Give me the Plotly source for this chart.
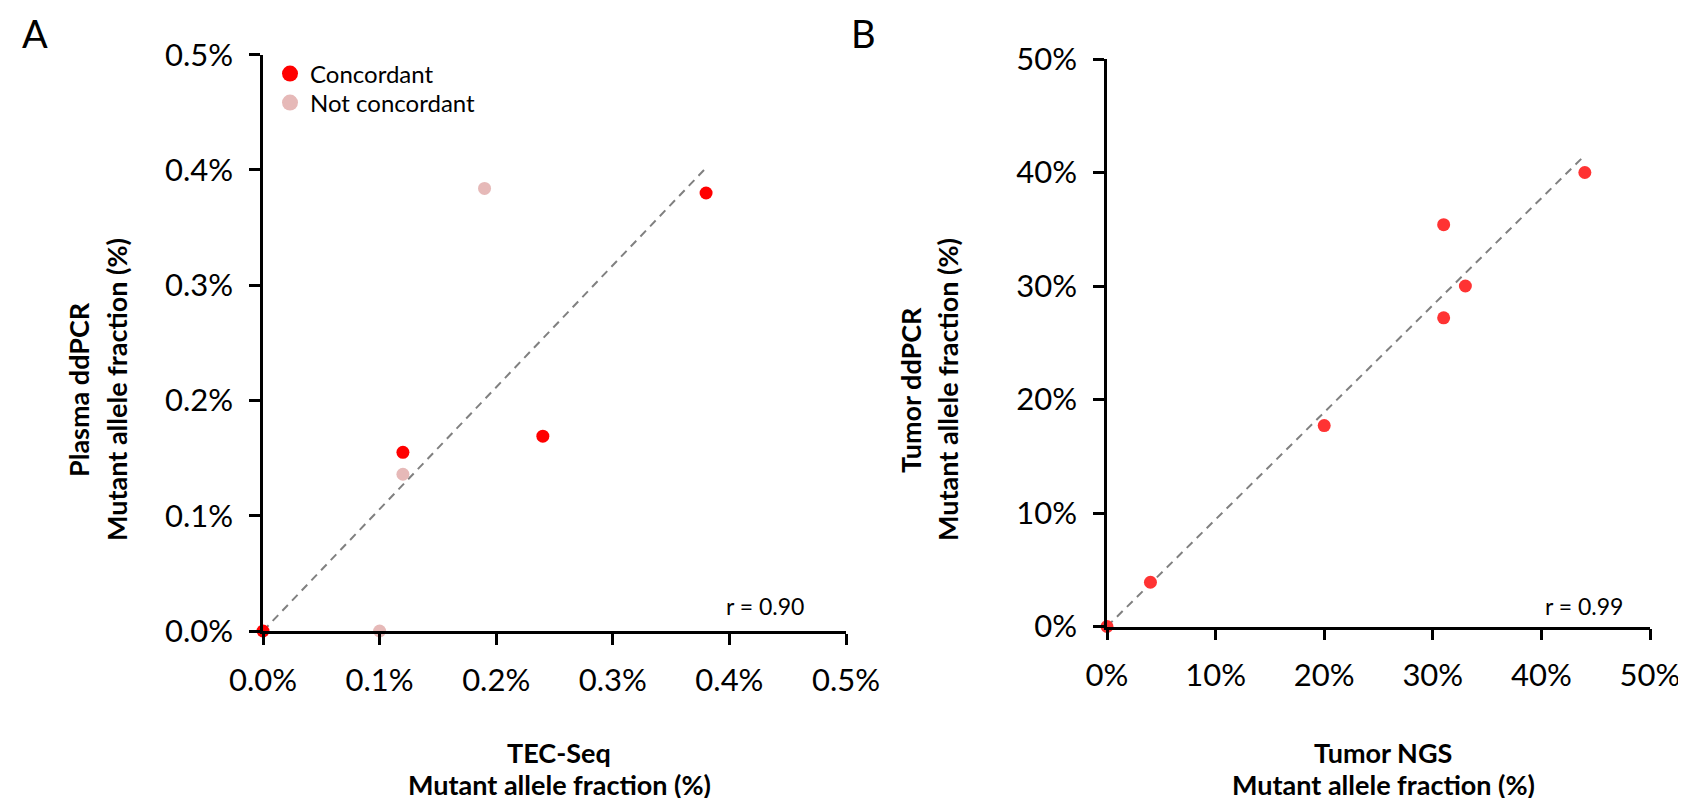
import numpy as np
import plotly.graph_objects as go

# ---------------- data ----------------
# Panel A: TEC-Seq vs plasma ddPCR (mutant allele fraction, %)
a_conc_x = [0.0, 0.12, 0.24, 0.38]
a_conc_y = [0.0, 0.155, 0.169, 0.380]
a_notc_x = [0.10, 0.12, 0.19]
a_notc_y = [0.0, 0.136, 0.384]
a_ticks = [0.0, 0.1, 0.2, 0.3, 0.4, 0.5]
a_tick_labels = ["0.0%", "0.1%", "0.2%", "0.3%", "0.4%", "0.5%"]
a_r_text = "r = 0.90"

# Panel B: tumor NGS vs tumor ddPCR (mutant allele fraction, %)
b_x = [0, 4, 20, 31, 31, 33, 44]
b_y = [0, 3.9, 17.7, 35.4, 27.2, 30.0, 40.0]
b_ticks = [0, 10, 20, 30, 40, 50]
b_tick_labels = ["0%", "10%", "20%", "30%", "40%", "50%"]
b_r_text = "r = 0.99"

W, H = 1686, 798
FONT = "Lato"
RED = "#FF0000"
PINK = "#E6B9B8"


def px(x):
    return x / W


def py(y):
    return 1 - y / H


def origin_fit(xs, ys):
    xs = np.asarray(xs, float)
    ys = np.asarray(ys, float)
    k = (xs * ys).sum() / (xs * xs).sum()
    xe = xs.max()
    return [0, xe], [0, k * xe]


fig = go.Figure()

# ---- Panel A ----
ax_all = a_conc_x + a_notc_x
ay_all = a_conc_y + a_notc_y
lx, ly = origin_fit(ax_all, ay_all)
fig.add_trace(go.Scatter(x=lx, y=ly, mode="lines", xaxis="x", yaxis="y",
                         line=dict(color="#808080", width=2, dash="8px,6px"),
                         showlegend=False, hoverinfo="skip"))
fig.add_trace(go.Scatter(x=a_notc_x, y=a_notc_y, mode="markers", xaxis="x", yaxis="y",
                         name="Not concordant", cliponaxis=False,
                         marker=dict(color=PINK, size=13), showlegend=False))
fig.add_trace(go.Scatter(x=a_conc_x, y=a_conc_y, mode="markers", xaxis="x", yaxis="y",
                         name="Concordant", cliponaxis=False,
                         marker=dict(color=RED, size=13), showlegend=False))
# legend entries (one legend each, so their spacing can match)
fig.add_trace(go.Scatter(x=[None], y=[None], mode="markers", xaxis="x", yaxis="y",
                         name="Concordant", legend="legend",
                         marker=dict(color=RED, size=18)))
fig.add_trace(go.Scatter(x=[None], y=[None], mode="markers", xaxis="x", yaxis="y",
                         name="Not concordant", legend="legend2",
                         marker=dict(color=PINK, size=18)))

# ---- Panel B ----
lx, ly = origin_fit(b_x, b_y)
fig.add_trace(go.Scatter(x=lx, y=ly, mode="lines", xaxis="x2", yaxis="y2",
                         line=dict(color="#808080", width=2, dash="8px,6px"),
                         showlegend=False, hoverinfo="skip"))
fig.add_trace(go.Scatter(x=b_x, y=b_y, mode="markers", xaxis="x2", yaxis="y2",
                         cliponaxis=False, showlegend=False,
                         marker=dict(color="#FF3333", size=13)))

axis_common = dict(showgrid=False, zeroline=False, showline=True, linecolor="black",
                   linewidth=2.5, ticks="outside", ticklen=11, tickwidth=2.5,
                   tickcolor="black", tickfont=dict(family=FONT, size=31, color="black"),
                   fixedrange=True, automargin=False, tickmode="array")

legend_common = dict(xanchor="left", yanchor="middle", bgcolor="rgba(0,0,0,0)",
                     font=dict(family=FONT, size=24, color="black"),
                     tracegroupgap=0, itemsizing="trace")

fig.update_layout(
    width=W, height=H,
    margin=dict(l=0, r=0, t=0, b=0, autoexpand=False),
    paper_bgcolor="white", plot_bgcolor="white",
    font=dict(family=FONT, color="black"),
    xaxis=dict(domain=[px(255), px(838)], range=[0, 0.5], tickvals=a_ticks,
               ticktext=a_tick_labels, anchor="y", ticklabelstandoff=9, **axis_common),
    yaxis=dict(domain=[py(623), py(46.7)], range=[0, 0.5], tickvals=a_ticks,
               ticktext=a_tick_labels, anchor="x", ticklabelstandoff=10, **axis_common),
    xaxis2=dict(domain=[px(1099), px(1642)], range=[0, 50], tickvals=b_ticks,
                ticktext=b_tick_labels, anchor="y2", ticklabelstandoff=9, **axis_common),
    yaxis2=dict(domain=[py(618.5), py(51)], range=[0, 50], tickvals=b_ticks,
                ticktext=b_tick_labels, anchor="x2", ticklabelstandoff=10, **axis_common),
    legend=dict(x=px(262), y=py(66), **legend_common),
    legend2=dict(x=px(262), y=py(95), **legend_common),
    showlegend=True,
)

ann = []


def text(x, y, s, size, bold=False, angle=0, xanchor="center"):
    if bold:
        s = "<b>" + s + "</b>"
    ann.append(dict(x=px(x), y=py(y), xref="paper", yref="paper", text=s,
                    showarrow=False, xanchor=xanchor, yanchor="middle",
                    textangle=angle, font=dict(family=FONT, size=size, color="black")))


text(27, 25, "A", 38)
text(855, 25, "B", 38)
text(798, 598, a_r_text, 23, xanchor="right")
text(1617, 598, b_r_text, 23, xanchor="right")
text(551, 744, "TEC-Seq", 27, bold=True)
text(551, 776, "Mutant allele fraction (%)", 27, bold=True)
text(1375, 744, "Tumor NGS", 27, bold=True)
text(1375, 776, "Mutant allele fraction (%)", 27, bold=True)
text(70, 382, "Plasma ddPCR", 27, bold=True, angle=-90)
text(108, 382, "Mutant allele fraction (%)", 27, bold=True, angle=-90)
text(902, 382, "Tumor ddPCR", 27, bold=True, angle=-90)
text(939, 382, "Mutant allele fraction (%)", 27, bold=True, angle=-90)
fig.update_layout(annotations=ann)

fig.write_html("out.html")
